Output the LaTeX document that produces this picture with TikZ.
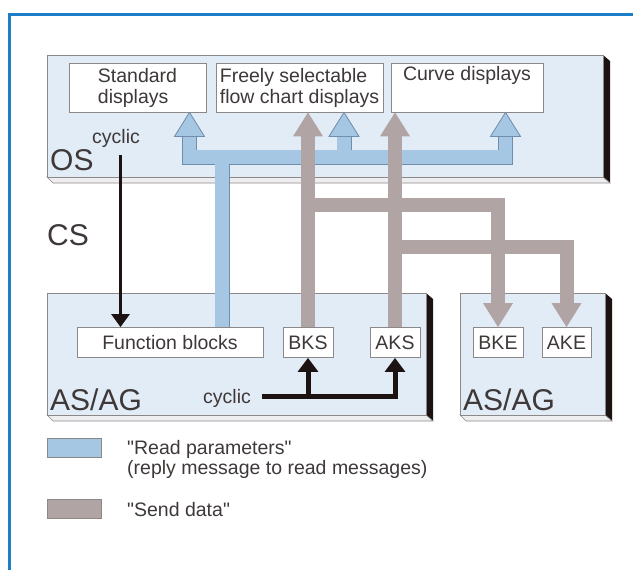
\documentclass[tikz,border=0pt]{standalone}
\usepackage{fontspec}
\setmainfont{Liberation Sans}
\usepackage{tikz}
\usetikzlibrary{arrows.meta,calc,positioning}
\definecolor{blue05}{RGB}{226, 236, 246}
\definecolor{blue20}{RGB}{165, 199, 228}
\definecolor{blue40}{RGB}{112, 142, 172}
\definecolor{blue60}{RGB}{28, 126, 200}
\definecolor{grey10}{RGB}{238, 238, 240}
\definecolor{grey30}{RGB}{176, 164, 165}
\definecolor{grey50}{RGB}{140, 136, 136}
\definecolor{ink}{RGB}{62, 56, 56}
\definecolor{dark}{RGB}{28, 18, 18}

\begin{document}
\begin{tikzpicture}[x=1pt, y=-1pt,
  box/.style={draw=grey50, fill=white, line width=0.8pt, inner sep=0pt, text=ink,
    font=\fontsize{19.5}{21}\selectfont, align=left},
  lbl/.style={inner sep=0pt, text=ink, font=\fontsize{19.5}{20}\selectfont},
  biglbl/.style={inner sep=0pt, text=ink, font=\fontsize{30}{30}\selectfont},
  face/.style={draw=grey50, line width=0.6pt, fill=blue05},
  bottom/.style={draw=grey50, line width=0.6pt, fill=grey10},
  bluepipe/.style={draw=blue40, line width=0.8pt, double=blue20, double distance=13.4pt, line join=miter},
  bluehead/.style={draw=blue40, line width=0.8pt, fill=blue20, line join=miter},
  greypipe/.style={draw=grey30, line width=14pt, line join=miter},
  cycline/.style={draw=dark, line width=5pt, line join=miter, -{Triangle[width=20pt,length=14pt]}},
  cycthin/.style={draw=dark, line width=3pt, -{Triangle[width=18pt,length=13pt]}}
]
  \useasboundingbox (0,0) rectangle (633,570);
  \draw[blue60, line width=3pt] (9.5,570) -- (9.5,14.5) -- (633,14.5);

  % OS slab
  \fill[dark] (603,55) -- (610,61) -- (610,183) -- (603,177) -- cycle;
  \filldraw[bottom] (47,177) -- (53,183) -- (610,183) -- (603,177) -- cycle;
  \filldraw[face] (47,55) rectangle (603,177);
  % AS/AG slabs
  \fill[dark] (426,293) -- (433,299) -- (433,421) -- (426,415) -- cycle;
  \filldraw[bottom] (47,415) -- (53,421) -- (433,421) -- (426,415) -- cycle;
  \filldraw[face] (47,293) rectangle (426,415);
  \fill[dark] (605,293) -- (612,299) -- (612,421) -- (605,415) -- cycle;
  \filldraw[bottom] (460,415) -- (466,421) -- (612,421) -- (605,415) -- cycle;
  \filldraw[face] (460,293) rectangle (605,415);

  \node[box, minimum width=137pt, minimum height=49pt] (std) at (137.5,87.5) {Standard\\displays};
  \node[box, minimum width=167pt, minimum height=49pt] (flow) at (299.5,87.5) {Freely selectable\\flow chart displays};
  \node[box, minimum width=152pt, minimum height=49pt, align=center] (curve) at (467,87.5) {Curve displays\\\strut};
  \node[box, minimum width=186pt, minimum height=30pt] (fb) at (170,342.5) {Function blocks};
  \node[box, minimum width=50pt, minimum height=30pt] (bks) at (308,342.5) {BKS};
  \node[box, minimum width=50pt, minimum height=30pt] (aks) at (395,342.5) {AKS};
  \node[box, minimum width=50pt, minimum height=30pt] (bke) at (498,342.5) {BKE};
  \node[box, minimum width=49pt, minimum height=30pt] (ake) at (566.5,342.5) {AKE};

  \node[biglbl, anchor=base west] (os) at (50,170) {OS};
  \node[lbl, anchor=base west] (oscyc) at (92,143) {cyclic};
  \node[biglbl, anchor=base west] (cs) at (47,245) {CS};
  \node[biglbl, anchor=base west] (asag) at (50,410) {AS/AG};
  \node[biglbl, anchor=base west] (asag2) at (463,410) {AS/AG};
  \node[lbl, anchor=base west] (ascyc) at (203,403) {cyclic};

  % read parameters
  \coordinate (bj) at (222,157);
  \foreach \n/\x in {std/189.5, flow/344, curve/505.5}
    \filldraw[bluehead] (\x,0 |- \n.south) -- ++(-15,24) -- ++(30,0) -- cycle;
  \draw[bluepipe] (bj |- fb.north) -- (bj)
    (189.5,136.5) |- (505.5,157) -- (505.5,136.5)
    (344,157) -- (344,136.5);

  % send data
  \fill[grey30] (bks |- flow.south) -- ++(-15,24) -- ++(30,0) -- cycle;
  \fill[grey30] (aks |- curve.south) -- ++(-15,24) -- ++(30,0) -- cycle;
  \fill[grey30] (bke.north) -- ++(-15,-24) -- ++(30,0) -- cycle;
  \fill[grey30] (ake.north) -- ++(-15,-24) -- ++(30,0) -- cycle;
  \draw[greypipe] (bks.north) -- ($(bks |- flow.south)+(0,23)$)
    (bks |- 0,205) -| ($(bke.north)+(0,-23)$)
    (aks.north) -- ($(aks |- curve.south)+(0,23)$)
    (aks |- 0,247) -| ($(ake.north)+(0,-23)$);

  % cyclic
  \draw[cycthin] (120.5,155) -- (120.5,0 |- fb.north);
  \coordinate (cl) at (262,396);
  \draw[cycline] (cl) -| (aks.south);
  \draw[cycline] (bks |- cl) -- (bks.south);

  % legend
  \filldraw[draw=grey50, line width=0.6pt, fill=blue20] (47,438) rectangle (101,457);
  \filldraw[draw=grey50, line width=0.6pt, fill=grey30] (47,499) rectangle (101,518);
  \node[lbl, anchor=north west, align=left] (readpar) at (127,440)
    {\textquotedbl Read parameters\textquotedbl\\(reply message to read messages)};
  \node[lbl, anchor=base west] (senddata) at (127,516) {\textquotedbl Send data\textquotedbl};
\end{tikzpicture}
\end{document}
